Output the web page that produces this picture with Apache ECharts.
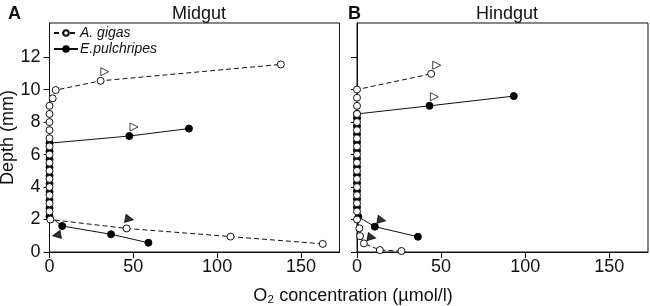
<!DOCTYPE html>
<html style="height: 100%">
<head>
	<meta charset="utf-8">
	<title>O2 profiles</title>
</head>
<body style="height: 100%; margin: 0; background: #fff">
<div id="container" style="width: 650px; height: 306px"></div>

<script src="https://cdn.jsdelivr.net/npm/echarts@6.0.0/dist/echarts.min.js"></script>
<script type="text/javascript">
	// Midgut (panel A)
	var midGigasConc = [163, 108, 46, 0.5, 0, 0, 0, 0, 0, 0, 0, 0, 0, 0, 0, 0, 0, 0, 1.9, 3.7, 30.5, 138];
	var midGigasDepth = [0.5, 0.95, 1.45, 2.0, 2.5, 3.0, 3.5, 4.0, 4.5, 5.0, 5.5, 6.0, 6.5, 7.0, 7.5, 8.0, 8.5, 9.0, 9.46, 9.97, 10.54, 11.55];
	var midPulchConc = [59, 36.7, 7.6, 0, 0, 0, 0, 0, 0, 0, 0, 0, 0, 47.6, 83.2];
	var midPulchDepth = [0.57, 1.09, 1.6, 2.2, 2.7, 3.2, 3.7, 4.2, 4.7, 5.2, 5.7, 6.2, 6.7, 7.14, 7.6];

	// Hindgut (panel B)
	var hindGigasConc = [26.4, 13.6, 4.1, 1.8, 1.4, 0, 0, 0, 0, 0, 0, 0, 0, 0, 0, 0, 0, 0, 0, 0, 0, 0, 44.1];
	var hindGigasDepth = [0.06, 0.12, 0.53, 0.98, 1.46, 2.0, 2.5, 3.0, 3.5, 4.0, 4.5, 5.0, 5.5, 6.0, 6.5, 7.0, 7.5, 8.0, 8.5, 9.0, 9.5, 10.0, 10.97];
	var hindPulchConc = [36.2, 10.6, 0.8, 0, 0, 0, 0, 0, 0, 0, 0, 0, 0, 0, 0, 0, 43.1, 93.2];
	var hindPulchDepth = [0.94, 1.56, 2.17, 2.75, 3.25, 3.75, 4.25, 4.75, 5.25, 5.75, 6.25, 6.75, 7.25, 7.75, 8.25, 8.5, 9.0, 9.6];

	// arrow marks: [conc, depth, rotation]
	var midOpenArrows = [[33, 11.1, -90], [50.4, 7.7, -90]];
	var midFilledArrows = [[47.6, 2.03, -100], [4.3, 1.04, 100]];
	var hindOpenArrows = [[47.4, 11.5, -90], [46, 9.56, -90]];
	var hindFilledArrows = [[14.6, 1.97, -100], [8.7, 0.9, -100]];

	var xTicks = [0, 50, 100, 150];
	var yTicks = [0, 2, 4, 6, 8, 10, 12];
	var panelTitles = ['Midgut', 'Hindgut'];
	var panelLetters = ['A', 'B'];

	var FONT = 'Liberation Sans';

	function pairs(xs, ys) {
		return xs.map(function (x, i) { return [x, ys[i]]; });
	}
	function arrows(list) {
		return list.map(function (a) { return {value: [a[0], a[1]], symbolRotate: a[2]}; });
	}

	var myChart = echarts.init(document.getElementById('container'), null, {renderer: 'canvas'});

	function xAxisFor(idx) {
		return {
			type: 'value', gridIndex: idx, min: 0, max: 173,
			axisLine: {show: true, onZero: false, lineStyle: {color: '#111', width: 1}},
			axisTick: {show: true, length: 6, customValues: xTicks, lineStyle: {color: '#111'}},
			axisLabel: {customValues: xTicks, margin: 6, fontSize: 18, color: '#111', fontFamily: FONT},
			splitLine: {show: false}
		};
	}
	function yAxisFor(idx) {
		return {
			type: 'value', gridIndex: idx, min: 0, max: 14.1,
			name: idx === 0 ? 'Depth (mm)' : '',
			nameLocation: 'middle', nameGap: 31, nameRotate: 90,
			nameTextStyle: {fontSize: 18, color: '#111', fontFamily: FONT},
			axisLine: {show: true, onZero: false, lineStyle: {color: '#111', width: 1}},
			axisTick: {show: true, length: 6, customValues: yTicks, lineStyle: {color: '#111'}},
			axisLabel: {show: idx === 0, customValues: yTicks, margin: 9, fontSize: 18, color: '#111', fontFamily: FONT},
			splitLine: {show: false}
		};
	}

	var openStyle = {color: '#fff', borderColor: '#111', borderWidth: 1};
	var filledStyle = {color: '#000', borderColor: '#000', borderWidth: 1};

	function profile(name, data, idx, open) {
		return {
			name: name, type: 'line', xAxisIndex: idx, yAxisIndex: idx,
			data: data, symbol: 'circle', symbolSize: 7, showSymbol: true,
			itemStyle: open ? openStyle : filledStyle,
			lineStyle: {color: '#111', width: 1, type: open ? [5, 3] : 'solid'},
			z: open ? 4 : 3,
			emphasis: {disabled: true}
		};
	}
	function marks(data, idx, open) {
		return {
			name: open ? 'open-arrow' : 'filled-arrow', type: 'scatter', xAxisIndex: idx, yAxisIndex: idx,
			data: arrows(data), symbol: 'triangle', symbolSize: 8,
			itemStyle: open ? openStyle : filledStyle,
			z: 5, emphasis: {disabled: true}
		};
	}

	var option = {
		animation: false,
		textStyle: {fontFamily: FONT},
		title: [
			{text: panelLetters[0], left: 3, top: 0, textStyle: {fontSize: 18, fontWeight: 'bold', color: '#111', fontFamily: FONT}},
			{text: panelTitles[0], left: 194, top: 0, textAlign: 'center', textStyle: {fontSize: 18, fontWeight: 'normal', color: '#111', fontFamily: FONT}},
			{text: panelLetters[1], left: 343, top: 0, textStyle: {fontSize: 18, fontWeight: 'bold', color: '#111', fontFamily: FONT}},
			{text: panelTitles[1], left: 502, top: 0, textAlign: 'center', textStyle: {fontSize: 18, fontWeight: 'normal', color: '#111', fontFamily: FONT}},
			{text: 'O₂ concentration (µmol/l)', left: 348, top: 282, textAlign: 'center', textStyle: {fontSize: 18, fontWeight: 'normal', color: '#111', fontFamily: FONT}}
		],
		legend: {
			data: ['A. gigas', 'E.pulchripes'],
			orient: 'vertical', left: 53, top: 26, itemGap: 2,
			itemWidth: 24, itemHeight: 7, padding: 0,
			textStyle: {fontSize: 14, fontStyle: 'italic', color: '#111', fontFamily: FONT, padding: [0, 0, 0, -3]}
		},
		grid: [
			{left: 49.5, top: 23, width: 290, height: 229, show: true, borderColor: '#111', borderWidth: 1, backgroundColor: 'transparent', outerBoundsMode: 'none', containLabel: false},
			{left: 357, top: 23, width: 291, height: 229, show: true, borderColor: '#111', borderWidth: 1, backgroundColor: 'transparent', outerBoundsMode: 'none', containLabel: false}
		],
		xAxis: [xAxisFor(0), xAxisFor(1)],
		yAxis: [yAxisFor(0), yAxisFor(1)],
		series: [
			profile('A. gigas', pairs(midGigasConc, midGigasDepth), 0, true),
			profile('E.pulchripes', pairs(midPulchConc, midPulchDepth), 0, false),
			profile('A. gigas', pairs(hindGigasConc, hindGigasDepth), 1, true),
			profile('E.pulchripes', pairs(hindPulchConc, hindPulchDepth), 1, false),
			marks(midOpenArrows, 0, true),
			marks(midFilledArrows, 0, false),
			marks(hindOpenArrows, 1, true),
			marks(hindFilledArrows, 1, false)
		]
	};

	myChart.setOption(option);
	window.addEventListener('resize', myChart.resize);
</script>
</body>
</html>
